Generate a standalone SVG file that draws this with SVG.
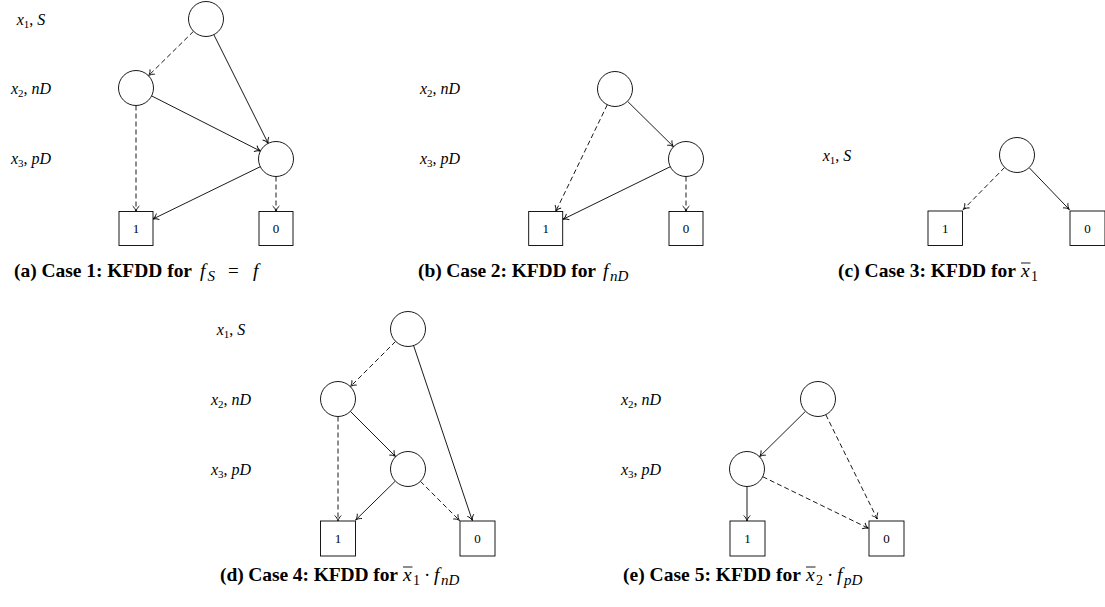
<svg xmlns="http://www.w3.org/2000/svg" width="1105" height="607" viewBox="0 0 1105 607">
<style>
.nd{fill:#fff;stroke:#000;stroke-width:0.9}
.tm{fill:#fff;stroke:#000;stroke-width:0.9}
.tv{font-family:"Liberation Serif",serif;font-size:13px;text-anchor:middle;fill:#000}
.lb{font-family:"Liberation Serif",serif;font-style:italic;font-size:16px;fill:#000;text-anchor:middle}
.sb{font-size:11px;font-style:normal}
.up{font-style:normal}
.cap{font-family:"Liberation Serif",serif;font-weight:bold;font-size:19.5px;fill:#000}
.mth{font-family:"Liberation Serif",serif;font-style:italic;font-size:19.5px;fill:#000}
.ms{font-family:"Liberation Serif",serif;font-style:italic;font-size:15px;fill:#000}
.mn{font-family:"Liberation Serif",serif;font-size:14px;fill:#000}
.mo{font-family:"Liberation Serif",serif;font-size:19px;fill:#000}
.e{fill:none;stroke:#000;stroke-width:0.9;marker-end:url(#ar)}
.d{stroke-dasharray:5 3}
.ov{stroke:#000;stroke-width:0.9}
</style>
<defs>
<marker id="ar" markerUnits="userSpaceOnUse" viewBox="-7 -5 8 10" refX="0" refY="0" markerWidth="8" markerHeight="10" orient="auto">
<path d="M-5.5,-3.4 C-4.2,-1.6 -1.8,-0.4 0,0 C-1.8,0.4 -4.2,1.6 -5.5,3.4" fill="none" stroke="#000" stroke-width="0.9" stroke-dasharray="none"/>
</marker>
</defs>

<!-- Panel (a) -->
<g id="a-labels">
<text class="lb" x="31" y="25">x<tspan class="sb" dy="3">1</tspan><tspan class="up" dy="-3">, </tspan>S</text>
<text class="lb" x="31" y="94">x<tspan class="sb" dy="3">2</tspan><tspan class="up" dy="-3">, </tspan>nD</text>
<text class="lb" x="31" y="164">x<tspan class="sb" dy="3">3</tspan><tspan class="up" dy="-3">, </tspan>pD</text>
</g>
<g id="a-edges">
<line class="e d" x1="193.5" y1="31.3" x2="148.5" y2="75.7"/>
<line class="e" x1="213.8" y1="34.6" x2="268.2" y2="143.4"/>
<line class="e" x1="151.6" y1="95.9" x2="260.4" y2="151.1"/>
<line class="e d" x1="136" y1="105.5" x2="136" y2="211.5"/>
<line class="e" x1="260.3" y1="166.7" x2="153" y2="219"/>
<line class="e d" x1="276" y1="176.5" x2="276" y2="211.5"/>
</g>
<g id="a-x1"><circle class="nd" cx="206" cy="19" r="17.5"/></g>
<g id="a-x2"><circle class="nd" cx="136" cy="88" r="17.5"/></g>
<g id="a-x3"><circle class="nd" cx="276" cy="159" r="17.5"/></g>
<g id="a-t1"><rect class="tm" x="119" y="211.5" width="34" height="34"/><text class="tv" x="136" y="233">1</text></g>
<g id="a-t0"><rect class="tm" x="259" y="211.5" width="34" height="34"/><text class="tv" x="276" y="233">0</text></g>
<g id="a-caption">
<text class="cap" x="14" y="277" textLength="178">(a) Case 1: KFDD for</text>
<text class="mth" x="200" y="277">f</text><text class="ms" x="207.5" y="281">S</text>
<text class="mo" x="228" y="277">=</text><text class="mth" x="253" y="277">f</text>
</g>

<!-- Panel (b) -->
<g id="b-labels">
<text class="lb" x="440" y="94">x<tspan class="sb" dy="3">2</tspan><tspan class="up" dy="-3">, </tspan>nD</text>
<text class="lb" x="440" y="164">x<tspan class="sb" dy="3">3</tspan><tspan class="up" dy="-3">, </tspan>pD</text>
</g>
<g id="b-edges">
<line class="e" x1="627.5" y1="101.3" x2="673.5" y2="146.7"/>
<line class="e d" x1="607.3" y1="104.7" x2="555.7" y2="211.5"/>
<line class="e" x1="670.3" y1="166.7" x2="563" y2="219.3"/>
<line class="e d" x1="686" y1="176.5" x2="686" y2="211.5"/>
</g>
<g id="b-x2"><circle class="nd" cx="615" cy="89" r="17.5"/></g>
<g id="b-x3"><circle class="nd" cx="686" cy="159" r="17.5"/></g>
<g id="b-t1"><rect class="tm" x="528.7" y="211.5" width="34" height="34"/><text class="tv" x="545.7" y="233">1</text></g>
<g id="b-t0"><rect class="tm" x="669" y="211.5" width="34" height="34"/><text class="tv" x="686" y="233">0</text></g>
<g id="b-caption">
<text class="cap" x="418" y="277" textLength="178">(b) Case 2: KFDD for</text>
<text class="mth" x="603" y="277">f</text><text class="ms" x="610" y="281">nD</text>
</g>

<!-- Panel (c) -->
<g id="c-labels">
<text class="lb" x="837" y="161">x<tspan class="sb" dy="3">1</tspan><tspan class="up" dy="-3">, </tspan>S</text>
</g>
<g id="c-edges">
<line class="e d" x1="1004.7" y1="167.4" x2="963.3" y2="209.5"/>
<line class="e" x1="1029.1" y1="167.6" x2="1069.3" y2="209.5"/>
</g>
<g id="c-x1"><circle class="nd" cx="1017" cy="155" r="17.5"/></g>
<g id="c-t1"><rect class="tm" x="928" y="211" width="34.5" height="34.5"/><text class="tv" x="945.2" y="233">1</text></g>
<g id="c-t0"><rect class="tm" x="1070" y="211" width="35" height="34.5"/><text class="tv" x="1087.5" y="233">0</text></g>
<g id="c-caption">
<text class="cap" x="838" y="277" textLength="178">(c) Case 3: KFDD for</text>
<text class="mth" x="1021" y="277">x</text><text class="mn" x="1031" y="281">1</text>
<line class="ov" x1="1021" y1="263" x2="1030.5" y2="263"/>
</g>

<!-- Panel (d) -->
<g id="d-labels">
<text class="lb" x="231" y="335">x<tspan class="sb" dy="3">1</tspan><tspan class="up" dy="-3">, </tspan>S</text>
<text class="lb" x="231" y="405">x<tspan class="sb" dy="3">2</tspan><tspan class="up" dy="-3">, </tspan>nD</text>
<text class="lb" x="231" y="475">x<tspan class="sb" dy="3">3</tspan><tspan class="up" dy="-3">, </tspan>pD</text>
</g>
<g id="d-edges">
<line class="e d" x1="395.6" y1="341.4" x2="350.4" y2="386.6"/>
<line class="e" x1="413.6" y1="345.6" x2="472.3" y2="520.5"/>
<line class="e d" x1="338" y1="416.5" x2="338" y2="521"/>
<line class="e" x1="350.4" y1="411.4" x2="395.6" y2="456.6"/>
<line class="e" x1="395.3" y1="481.1" x2="355.7" y2="520"/>
<line class="e d" x1="420.4" y1="481.3" x2="459.5" y2="520.5"/>
</g>
<g id="d-x1"><circle class="nd" cx="408" cy="329" r="17.5"/></g>
<g id="d-x2"><circle class="nd" cx="338" cy="399" r="17.5"/></g>
<g id="d-x3"><circle class="nd" cx="408" cy="469" r="17.5"/></g>
<g id="d-t1"><rect class="tm" x="320.5" y="521" width="35" height="35"/><text class="tv" x="338" y="543">1</text></g>
<g id="d-t0"><rect class="tm" x="460" y="521" width="35" height="35"/><text class="tv" x="477.5" y="543">0</text></g>
<g id="d-caption">
<text class="cap" x="220" y="581" textLength="178">(d) Case 4: KFDD for</text>
<text class="mth" x="403" y="581">x</text><text class="mn" x="413" y="585">1</text>
<line class="ov" x1="403" y1="567" x2="412.5" y2="567"/>
<text class="mo" x="424" y="581">·</text>
<text class="mth" x="434" y="581">f</text><text class="ms" x="441" y="585">nD</text>
</g>

<!-- Panel (e) -->
<g id="e-labels">
<text class="lb" x="641" y="405">x<tspan class="sb" dy="3">2</tspan><tspan class="up" dy="-3">, </tspan>nD</text>
<text class="lb" x="641" y="475">x<tspan class="sb" dy="3">3</tspan><tspan class="up" dy="-3">, </tspan>pD</text>
</g>
<g id="e-edges">
<line class="e" x1="805.5" y1="411.3" x2="759.5" y2="456.7"/>
<line class="e d" x1="825.8" y1="414.7" x2="877.3" y2="519"/>
<line class="e" x1="747" y1="486.5" x2="747" y2="521"/>
<line class="e d" x1="762.7" y1="476.7" x2="868.5" y2="528.3"/>
</g>
<g id="e-x2"><circle class="nd" cx="818" cy="399" r="17.5"/></g>
<g id="e-x3"><circle class="nd" cx="747" cy="469" r="17.5"/></g>
<g id="e-t1"><rect class="tm" x="730" y="521" width="35" height="35"/><text class="tv" x="747.5" y="543">1</text></g>
<g id="e-t0"><rect class="tm" x="869" y="521" width="35" height="35"/><text class="tv" x="886.5" y="543">0</text></g>
<g id="e-caption">
<text class="cap" x="623" y="581" textLength="178">(e) Case 5: KFDD for</text>
<text class="mth" x="806" y="581">x</text><text class="mn" x="816" y="585">2</text>
<line class="ov" x1="806" y1="567" x2="815.5" y2="567"/>
<text class="mo" x="827" y="581">·</text>
<text class="mth" x="837" y="581">f</text><text class="ms" x="844" y="585">pD</text>
</g>
</svg>
